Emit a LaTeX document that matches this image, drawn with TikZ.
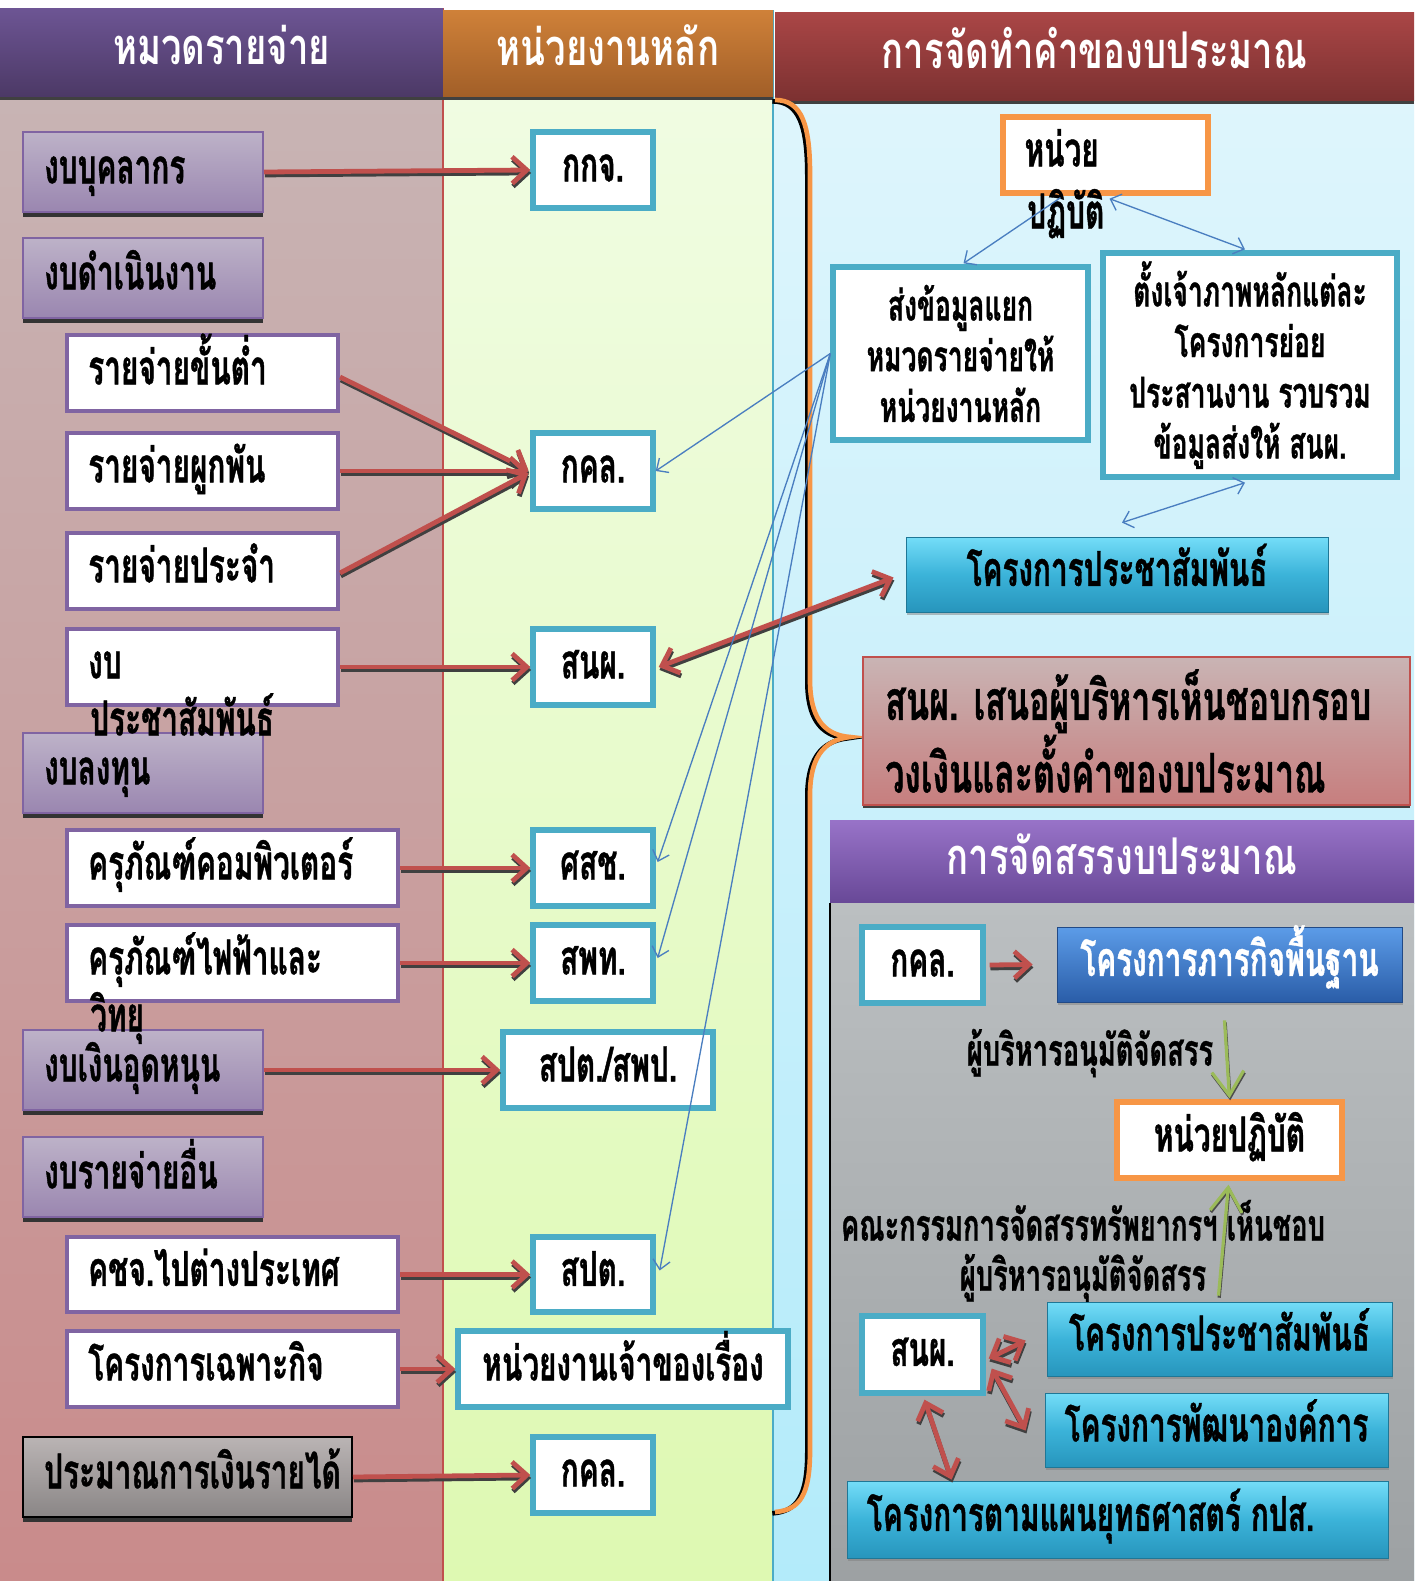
\documentclass[tikz,border=0pt]{standalone}
\usepackage{fontspec}
\usetikzlibrary{arrows.meta,shadows,calc}
\newfontfamily\thai[Script=Thai,FakeStretch=0.62,FakeBold=0.8]{Loma}
\newfontfamily\thaiw[Script=Thai,FakeStretch=0.72]{Loma}
\definecolor{hpA}{HTML}{6D5594}
\definecolor{hpB}{HTML}{4C3966}
\definecolor{hoA}{HTML}{CF8139}
\definecolor{hoB}{HTML}{A25F28}
\definecolor{hrA}{HTML}{AA4646}
\definecolor{hrB}{HTML}{7C3131}
\definecolor{cpA}{HTML}{BDB2C8}
\definecolor{cpB}{HTML}{9A86B0}
\definecolor{purB}{HTML}{8064A2}
\definecolor{gyA}{HTML}{BAB4B4}
\definecolor{gyB}{HTML}{8A8686}
\definecolor{cyB}{HTML}{4BACC6}
\definecolor{oraB}{HTML}{F79646}
\definecolor{bluL}{HTML}{4A7EC0}
\definecolor{redA}{HTML}{C0504D}
\definecolor{grnA}{HTML}{9BBB59}
\definecolor{c1A}{HTML}{C8B4B4}
\definecolor{c1B}{HTML}{C98B8B}
\definecolor{c2A}{HTML}{F0FCE2}
\definecolor{c2B}{HTML}{DEF9B2}
\definecolor{c3A}{HTML}{DEF5FC}
\definecolor{c3B}{HTML}{B3EBFA}
\definecolor{pkA}{HTML}{C9B4B4}
\definecolor{pkB}{HTML}{C77E7E}
\definecolor{alA}{HTML}{9873C8}
\definecolor{alB}{HTML}{684897}
\definecolor{gpA}{HTML}{BBBFC1}
\definecolor{gpB}{HTML}{9DA1A3}
\definecolor{cbA}{HTML}{74DDF8}
\definecolor{cbM}{HTML}{3BB3D9}
\definecolor{cbB}{HTML}{2795BC}
\definecolor{bbA}{HTML}{5C9CE8}
\definecolor{bbB}{HTML}{2A5DA8}
\newcommand\mkbox[7]{\node[#6, minimum width={(#4-#2)*0.75pt}, minimum height={(#5-#3)*0.75pt}] (#1) at ({(#2+#4)/2},{(#3+#5)/2}) {#7};}
\newcommand\mkboxl[8]{\mkbox{#1}{#2}{#3}{#4}{#5}{#6}{}\node[tx,anchor=west] (#1t) at ($(#1.west)+(#8,0)$) {#7};}
\newcommand\rar[3][]{\draw[rarr,draw=black!75,transform canvas={xshift=0.6pt,yshift=-2.2pt},#1] #2 -- #3; \draw[rarr,#1] #2 -- #3;}
\newcommand\gar[2]{\draw[garr,draw=black!70,transform canvas={xshift=0.5pt,yshift=-1.5pt}] #1 -- #2; \draw[garr] #1 -- #2;}
\begin{document}
\begin{tikzpicture}[x=0.75pt,y=-0.75pt,
  tx/.style={font=\thai\bfseries\fontsize{36}{42}\selectfont, text height=17pt, text depth=0pt, inner sep=0pt},
  hdr/.style={font=\thaiw\bfseries\fontsize{38}{44}\selectfont, text height=19pt, text depth=0pt, inner sep=0pt, text=white, drop shadow={shadow xshift=0pt, shadow yshift=-3pt, fill=black!75, opacity=1}},
  catbox/.style={tx, draw=purB, line width=1.5pt, top color=cpA, bottom color=cpB, drop shadow={shadow xshift=0pt,shadow yshift=-3.5pt,fill=black!80,opacity=1}},
  graybox/.style={catbox, draw=black, top color=gyA, bottom color=gyB},
  ibox/.style={tx, draw=purB, line width=3pt, fill=white},
  mbox/.style={tx, draw=cyB, line width=4pt, fill=white},
  mboxm/.style={draw=cyB, line width=4pt, fill=white, font=\thai\bfseries\fontsize{32}{38}\selectfont, align=center, inner sep=0pt},
  obox/.style={tx, draw=oraB, line width=4pt, fill=white},
  cbox/.style={tx, draw=cbB!80!black, line width=0.6pt, top color=cbA, bottom color=cbB, middle color=cbM, drop shadow={shadow xshift=1pt, shadow yshift=-2.5pt, opacity=0.5}},
  bbox/.style={tx, text=white, draw=bbB!80!black, line width=0.6pt, top color=bbA, bottom color=bbB, drop shadow={shadow xshift=1pt, shadow yshift=-2.5pt, opacity=0.5}},
  pkbox/.style={draw=redA, line width=1pt, top color=pkA, bottom color=pkB, drop shadow={shadow xshift=0pt, shadow yshift=-2.5pt, fill=black!75, opacity=1}},
  lbl/.style={tx, font=\thai\bfseries\fontsize{33}{38}\selectfont, text height=16pt},
  rarr/.style={draw=redA, line width=3.6pt, >={Straight Barb[length=11pt,width=20pt]}, ->},
  garr/.style={draw=grnA, line width=2.4pt, >={Straight Barb[length=18pt,width=24pt]}, ->},
  barr/.style={draw=bluL, line width=1pt, >={Straight Barb[length=7pt,width=13pt]}, ->}]
\useasboundingbox (0,0) rectangle (1426,1581);
\fill[white] (0,0) rectangle (1426,1581);
% column backgrounds
\shade[top color=c1A,bottom color=c1B] (0,96) rectangle (443,1581);
\shade[top color=c2A,bottom color=c2B] (443,96) rectangle (773,1581);
\shade[top color=c3A,bottom color=c3B] (773,96) rectangle (1414,1581);
\draw[redA, line width=1pt] (443,8) -- (443,1581);
\draw[cyB, line width=1pt] (773,10) -- (773,1581);
% headers
\mkbox{h1}{0}{8}{443}{96}{hdr, top color=hpA, bottom color=hpB}{หมวดรายจ่าย}
\mkbox{h2}{443}{10}{773}{96}{hdr, top color=hoA, bottom color=hoB}{หน่วยงานหลัก}
\mkbox{h3}{775}{12}{1414}{100}{hdr, top color=hrA, bottom color=hrB}{การจัดทำคำของบประมาณ}
% brace
\draw[black, line width=3.5pt, transform canvas={xshift=-2pt,yshift=-1pt}] (775,100) .. controls (802,100) and (810,125) .. (810,175) -- (810,680) .. controls (810,715) and (822,735) .. (850,737) .. controls (822,740) and (810,760) .. (810,795) -- (810,1450) .. controls (810,1495) and (800,1510) .. (775,1512);
\draw[oraB, line width=3.5pt] (775,100) .. controls (802,100) and (810,125) .. (810,175) -- (810,680) .. controls (810,715) and (822,735) .. (850,737) .. controls (822,740) and (810,760) .. (810,795) -- (810,1450) .. controls (810,1495) and (800,1510) .. (775,1512);
% left column
\mkboxl{cb1}{23}{132}{263}{212}{catbox}{งบบุคลากร}{22}
\mkboxl{cb2}{23}{238}{263}{318}{catbox}{งบดำเนินงาน}{22}
\mkboxl{cb3}{23}{733}{263}{813}{catbox}{งบลงทุน}{22}
\mkboxl{cb4}{23}{1030}{263}{1110}{catbox}{งบเงินอุดหนุน}{22}
\mkboxl{cb5}{23}{1137}{263}{1217}{catbox}{งบรายจ่ายอื่น}{22}
\mkboxl{cb6}{23}{1437}{352}{1517}{graybox}{ประมาณการเงินรายได้}{22}
\mkboxl{i1}{67}{335}{338}{411}{ibox}{รายจ่ายขั้นต่ำ}{23}
\mkboxl{i2}{67}{433}{338}{509}{ibox}{รายจ่ายผูกพัน}{23}
\mkboxl{i3}{67}{533}{338}{609}{ibox}{รายจ่ายประจำ}{23}
\mkboxl{i4}{67}{629}{338}{705}{ibox}{งบ}{23}
\mkboxl{i5}{67}{830}{398}{906}{ibox}{ครุภัณฑ์คอมพิวเตอร์}{23}
\mkboxl{i6}{67}{925}{398}{1001}{ibox}{ครุภัณฑ์ไฟฟ้าและ}{23}
\mkboxl{i7}{67}{1237}{398}{1312}{ibox}{คชจ.ไปต่างประเทศ}{23}
\mkboxl{i8}{67}{1331}{398}{1407}{ibox}{โครงการเฉพาะกิจ}{23}
\node[tx,anchor=west] (i4b) at (90,724) {ประชาสัมพันธ์};
\node[tx,anchor=west] (i6b) at (90,1020) {วิทยุ};
% middle column
\mkbox{m1}{533}{132}{653}{208}{mbox}{กกจ.}
\mkbox{m2}{533}{433}{653}{509}{mbox}{กคล.}
\mkbox{m3}{533}{629}{653}{705}{mbox}{สนผ.}
\mkbox{m4}{533}{830}{653}{906}{mbox}{ศสช.}
\mkbox{m5}{533}{925}{653}{1001}{mbox}{สพท.}
\mkbox{m6}{503}{1032}{713}{1108}{mbox}{สปต./สพป.}
\mkbox{m7}{533}{1237}{653}{1312}{mbox}{สปต.}
\mkbox{m8}{458}{1331}{788}{1407}{mbox}{หน่วยงานเจ้าของเรื่อง}
\mkbox{m9}{533}{1437}{653}{1513}{mbox}{กคล.}
% right column top
\mkboxl{u1}{1003}{117}{1208}{193}{obox}{หน่วย}{24}
\node[tx,anchor=west] (u1b) at (1027,217) {ปฏิบัติ};
\mkbox{s1}{833}{267}{1088}{440}{mboxm}{ส่งข้อมูลแยก\\หมวดรายจ่ายให้\\หน่วยงานหลัก}
\mkbox{s2}{1103}{253}{1397}{477}{mboxm}{ตั้งเจ้าภาพหลักแต่ละ\\โครงการย่อย\\ประสานงาน รวบรวม\\ข้อมูลส่งให้ สนผ.}
\mkbox{prB}{906}{537}{1328}{612}{cbox}{โครงการประชาสัมพันธ์}
\mkbox{pk}{863}{657}{1410}{805}{pkbox}{}
\node[font=\thai\bfseries\fontsize{41}{46.5}\selectfont, align=left, inner sep=0pt, anchor=west] (pkt) at (885,731) {สนผ. เสนอผู้บริหารเห็นชอบกรอบ\\วงเงินและตั้งคำของบประมาณ};
% allocation section
\mkbox{ah}{830}{820}{1414}{903}{hdr, top color=alA, bottom color=alB}{การจัดสรรงบประมาณ}
\shade[top color=gpA,bottom color=gpB] (830,903) rectangle (1414,1581);
\draw[black, line width=1.2pt] (830,903) -- (830,1581);
\mkbox{k2}{862}{927}{983}{1003}{mbox}{กคล.}
\mkbox{pb}{1057}{927}{1402}{1002}{bbox}{โครงการภารกิจพื้นฐาน}
\node[lbl] (l1) at (1090,1055) {ผู้บริหารอนุมัติจัดสรร};
\mkbox{u2}{1117}{1102}{1342}{1178}{obox}{หน่วยปฏิบัติ}
\node[lbl] (l2) at (1083,1230) {คณะกรรมการจัดสรรทรัพยากรฯ เห็นชอบ};
\node[lbl] (l3) at (1083,1280) {ผู้บริหารอนุมัติจัดสรร};
\mkbox{sn2}{862}{1316}{983}{1393}{mbox}{สนผ.}
\mkbox{pr2}{1047}{1302}{1392}{1376}{cbox}{โครงการประชาสัมพันธ์}
\mkbox{po}{1045}{1393}{1388}{1467}{cbox}{โครงการพัฒนาองค์การ}
\mkboxl{ps}{847}{1481}{1388}{1558}{cbox}{โครงการตามแผนยุทธศาสตร์ กปส.}{20}
% red arrows
\rar{(cb1.east)}{(m1.west)}
\rar{($(i1.east)+(0,4)$)}{($(m2.west)+(-2,-1)$)}
\rar{(i2.east)}{($(m2.west)+(-2,0)$)}
\rar{($(i3.east)+(0,2)$)}{($(m2.west)+(-2,2)$)}
\rar{(i4.east)}{(m3.west)}
\rar{(i5.east)}{(m4.west)}
\rar{(i6.east)}{(m5.west)}
\rar{(cb4.east)}{(m6.west)}
\rar{(i7.east)}{(m7.west)}
\rar{(i8.east)}{(m8.west)}
\rar{(cb6.east)}{(m9.west)}
\rar[<->]{($(m3.east)+(3,0)$)}{($(prB.west)+(-12,3)$)}
\rar{($(k2.east)+(4,0)$)}{($(pb.west)+(-24,0)$)}
\rar[<->]{($(sn2.east)+(3,4)$)}{($(sn2.east)+(40,-14)$)}
\rar[<->]{($(sn2.east)+(6,14)$)}{($(sn2.east)+(40,76)$)}
\rar[<->]{($(sn2.south)+(2,4)$)}{($(ps.north west)+(105,-1)$)}
% green arrows
\gar{($(pb.south)+(-5,18)$)}{($(u2.north)+(0,-1)$)}
\gar{($(u2.south)+(-11,115)$)}{($(u2.south)+(-1,4)$)}
% blue arrows
\draw[barr] (s1.west) -- (m2.east);
\draw[barr] (s1.west) -- ($(m4.east)+(2,-6)$);
\draw[barr] (s1.west) -- ($(m5.east)+(2,-5)$);
\draw[barr] (s1.west) -- ($(m7.east)+(4,-4)$);
\draw[barr] ($(u1.south)+(-45,2)$) -- ($(s1.north)+(3,-1)$);
\draw[barr,<->] ($(u1.south)+(4,3)$) -- ($(s2.north)+(-5,-1)$);
\draw[barr,<->] ($(s2.south)+(-5,3)$) -- ($(prB.north)+(5,-14)$);
\end{tikzpicture}
\end{document}
